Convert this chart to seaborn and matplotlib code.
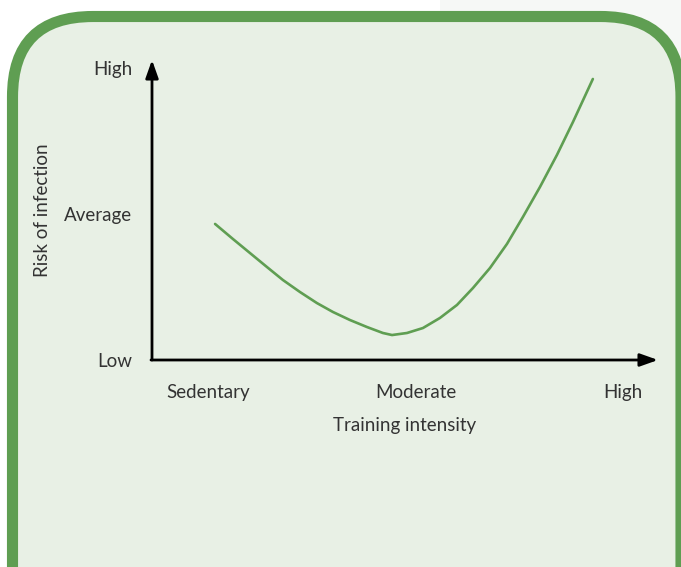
import matplotlib
matplotlib.use("Agg")
import matplotlib.pyplot as plt
from matplotlib.patches import FancyBboxPatch, Rectangle
import pandas as pd
import seaborn as sns

# Training intensity (0 = sedentary, 1 = moderate, 2 = high) vs. relative infection risk
intensity = [0.034, 0.120, 0.284, 0.361, 0.443, 0.525, 0.602, 0.684, 0.766, 0.843,
             0.887, 0.959, 1.036, 1.118, 1.200, 1.277, 1.359, 1.441, 1.518, 1.600,
             1.682, 1.759, 1.855]
risk = [0.932, 0.829, 0.637, 0.548, 0.466, 0.390, 0.329, 0.274, 0.226, 0.185,
        0.171, 0.185, 0.219, 0.288, 0.377, 0.493, 0.630, 0.795, 0.980, 1.185,
        1.405, 1.630, 1.925]

x_ticks = [0, 1, 2]
x_tick_labels = ["Sedentary", "Moderate", "High"]
y_ticks = [0, 1, 2]
y_tick_labels = ["Low", "Average", "High"]

GREEN = "#5f9e52"
FILL = "#e8f0e5"
TEXT = "#333333"

sns.set_theme(style="white")
plt.rcParams["font.family"] = ["Lato", "DejaVu Sans"]

W, H = 681, 567
fig = plt.figure(figsize=(W / 100, H / 100), dpi=100)
fig.patch.set_facecolor("white")

# faint grey strip behind the top-right corner
fig.patches.append(Rectangle((440 / W, 0), 1, 1, transform=fig.transFigure,
                             facecolor="#f6f8f6", edgecolor="none", zorder=0))

# rounded panel frame (runs off the bottom and right edges)
frame = FancyBboxPatch((12.5 / W, -200 / H), (681 - 12.5) / W, (H - 16.5 + 200) / H,
                       boxstyle="round,pad=0,rounding_size=0.118",
                       mutation_aspect=W / H,
                       transform=fig.transFigure, facecolor=FILL,
                       edgecolor=GREEN, linewidth=8, zorder=1)
fig.patches.append(frame)

ax = fig.add_axes([152 / W, (H - 360) / H, (658 - 152) / W, 300 / H])
ax.set_facecolor("none")
ax.set_zorder(2)

df = pd.DataFrame({"intensity": intensity, "risk": risk})
sns.lineplot(data=df, x="intensity", y="risk", ax=ax, color=GREEN,
             linewidth=1.9, sort=True)

ax.set_xlim(-0.27, 2.169)
ax.set_ylim(0, 2.055)

for s in ax.spines.values():
    s.set_visible(False)

# axis arrows
arrow = dict(arrowstyle="-|>,head_length=0.9,head_width=0.32", color="black",
             lw=2, shrinkA=0, shrinkB=0)
ax.annotate("", xy=(0, 1), xytext=(0, 0), xycoords="axes fraction",
            textcoords="axes fraction", arrowprops=arrow)
ax.annotate("", xy=(1, 0), xytext=(-0.002, 0), xycoords="axes fraction",
            textcoords="axes fraction", arrowprops=arrow)

FS = 13.5
ax.set_xticks(x_ticks)
ax.set_xticklabels(x_tick_labels)
ax.set_yticks(y_ticks)
ax.set_yticklabels(y_tick_labels)
ax.tick_params(axis="both", length=0, labelsize=FS, colors=TEXT)
ax.tick_params(axis="x", pad=17)
ax.tick_params(axis="y", pad=14)

ax.set_xlabel("Training intensity", fontsize=FS, color=TEXT, labelpad=12)
ax.set_ylabel("Risk of infection", fontsize=FS, color=TEXT, labelpad=10)

fig.savefig("out.png", dpi=100)
